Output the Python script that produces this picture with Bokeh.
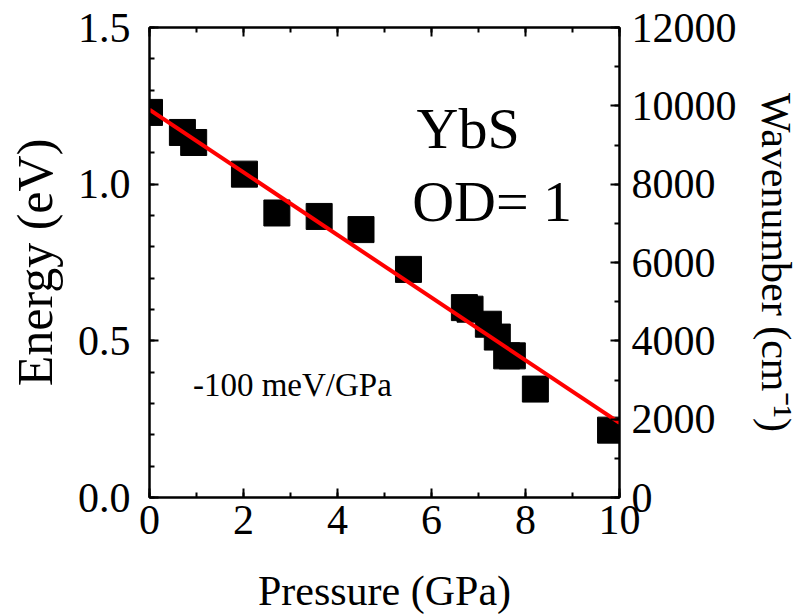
from bokeh.plotting import figure
from bokeh.models import (LinearAxis, Range1d, Label, SingleIntervalTicker,
                          ColumnDataSource, PrintfTickFormatter)
from bokeh.embed import file_html
from bokeh.resources import INLINE

# data
pressure = [0.0, 0.70, 0.94, 2.02, 2.71, 3.61, 4.50, 5.51, 6.70, 6.82, 7.21, 7.40, 7.60, 7.72, 8.21, 9.81]
energy = [1.229, 1.165, 1.133, 1.032, 0.908, 0.897, 0.855, 0.728, 0.606, 0.601, 0.553, 0.512, 0.452, 0.452, 0.346, 0.215]
fit_p = [0.0, 10.0]
fit_e = [1.238, 0.238]

FONT = "Liberation Serif"

W, H = 810, 616
p = figure(width=W, height=H, output_backend="svg", toolbar_location=None,
           x_range=Range1d(0, 10), y_range=Range1d(0, 1.5),
           min_border_left=149, min_border_right=W - 619, min_border_top=27,
           min_border_bottom=H - 497)
p.extra_y_ranges = {"wn": Range1d(0, 12000)}

p.grid.visible = False
p.outline_line_color = "black"
p.outline_line_width = 2
p.background_fill_color = "white"
p.border_fill_color = "white"

src = ColumnDataSource(dict(x=pressure, y=energy))
p.scatter("x", "y", source=src, marker="square", size=26, color="black")
p.line(fit_p, fit_e, line_color="red", line_width=4)

def style(ax, labels=True):
    ax.axis_line_width = 2
    ax.major_tick_in = 9
    ax.major_tick_out = 0
    ax.minor_tick_in = 5
    ax.minor_tick_out = 0
    ax.major_tick_line_width = 2
    ax.minor_tick_line_width = 2
    ax.major_label_text_font = FONT
    ax.major_label_text_font_size = "42px"
    ax.major_label_text_color = "black" if labels else None
    ax.axis_label_text_font = FONT
    ax.axis_label_text_font_size = "44px"
    ax.axis_label_text_font_style = "normal"
    ax.axis_label_text_color = "black"

xa = p.xaxis[0]
xa.ticker = SingleIntervalTicker(interval=2, num_minor_ticks=2)
xa.axis_label = "Pressure (GPa)"
style(xa)
xa.axis_label_text_font_size = "42px"
xa.major_label_standoff = 8
xa.axis_label_standoff = 31

ya = p.yaxis[0]
ya.ticker = SingleIntervalTicker(interval=0.5, num_minor_ticks=5)
ya.axis_label = "Energy (eV)"
style(ya)
ya.axis_label_text_font_size = "50px"
ya.major_label_standoff = 19
ya.axis_label_standoff = 12
ya.formatter = PrintfTickFormatter(format="%.1f")

top = LinearAxis(ticker=SingleIntervalTicker(interval=2, num_minor_ticks=2))
style(top, labels=False)
top.major_label_text_font_size = "0px"
p.add_layout(top, "above")

ra = LinearAxis(y_range_name="wn",
                ticker=SingleIntervalTicker(interval=2000, num_minor_ticks=2),
                axis_label="Wavenumber (cm\u207b\u00b9)")
style(ra)
ra.axis_label_text_font_size = "42px"
ra.major_label_standoff = 12
ra.axis_label_standoff = 13
p.add_layout(ra, "right")

for txt, x, y, sz in [("YbS", 6.78, 1.177, "58px"), ("OD= 1", 7.29, 0.945, "58px"),
                      ("-100 meV/GPa", 3.04, 0.36, "33px")]:
    p.add_layout(Label(x=x, y=y, text=txt, text_font=FONT, text_font_size=sz,
                       text_align="center", text_baseline="middle",
                       text_color="black"))

open("out.html", "w").write(file_html(p, INLINE))
